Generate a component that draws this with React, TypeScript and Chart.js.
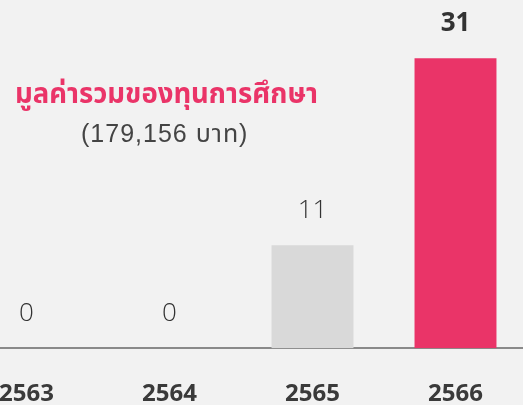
import React, { useEffect, useRef } from "react";
import { Chart, registerables } from "chart.js";
Chart.register(...registerables);

const categories = ["2563", "2564", "2565", "2566"];
const scholarships = [0, 0, 11, 31];
const titleText = "มูลค่ารวมของทุนการศึกษา";
const subtitleText = "(179,156 บาท)";

const PINK = "#ea3468";
const GREY_BAR = "#d9d9d9";
const BG = "#f2f2f2";

export default function App() {
  const ref = useRef<HTMLCanvasElement>(null);
  useEffect(() => {
    document.body.style.margin = "0";
    document.body.style.background = BG;
    const lastIdx = scholarships.length - 1;
    const valueLabels = {
      id: "valueLabels",
      afterDatasetsDraw(chart: any) {
        const ctx = chart.ctx;
        const meta = chart.getDatasetMeta(0);
        meta.data.forEach((bar: any, i: number) => {
          const last = i === lastIdx;
          ctx.save();
          ctx.font = last ? "bold 26px 'Open Sans'" : "300 26px 'Open Sans'";
          ctx.fillStyle = "#333333";
          ctx.textAlign = "center";
          ctx.textBaseline = "middle";
          ctx.fillText(String(scholarships[i]), bar.x, bar.y - 35);
          ctx.restore();
        });
      },
    };
    const chart = new Chart(ref.current as HTMLCanvasElement, {
      type: "bar",
      data: {
        labels: categories,
        datasets: [
          {
            data: scholarships,
            backgroundColor: scholarships.map((_, i) => (i === lastIdx ? PINK : GREY_BAR)),
            barPercentage: 0.573,
            categoryPercentage: 1,
            borderWidth: 0,
          },
        ],
      },
      options: {
        animation: false,
        responsive: false,
        maintainAspectRatio: false,
        layout: { padding: { top: 2, left: 0, right: 0, bottom: 0 } },
        plugins: { legend: { display: false }, tooltip: { enabled: false } },
        scales: {
          x: {
            grid: { display: false, drawTicks: false, tickLength: 0 },
            border: { display: true, color: "#8a8a8a", width: 2 },
            ticks: {
              padding: 32,
              color: "#3a3a3a",
              font: { family: "'Open Sans'", size: 24, weight: "bold" },
            },
          },
          y: { display: false, min: 0, max: 37 },
        },
      },
      plugins: [valueLabels],
    });
    return () => chart.destroy();
  }, []);

  return (
    <div
      style={{
        position: "relative",
        width: 523,
        height: 405,
        overflow: "hidden",
        background: BG,
      }}
    >
      <canvas
        ref={ref}
        width={572}
        height={441}
        style={{ position: "absolute", left: -45, top: 0, width: 572, height: 441 }}
      />
      <div
        style={{
          position: "absolute",
          left: 15,
          top: 78,
          fontFamily: "'Noto Sans Thai', 'Noto Sans', sans-serif",
          fontWeight: 700,
          fontSize: 27.5,
          color: PINK,
          whiteSpace: "nowrap",
          lineHeight: 1.2,
        }}
      >
        {titleText}
      </div>
      <div
        style={{
          position: "absolute",
          left: 81,
          top: 118,
          fontFamily: "'Liberation Sans', 'Noto Sans Thai', sans-serif",
          fontWeight: 400,
          fontSize: 25,
          letterSpacing: 1,
          color: "#444444",
          whiteSpace: "nowrap",
          lineHeight: 1.2,
        }}
      >
        {subtitleText}
      </div>
    </div>
  );
}
